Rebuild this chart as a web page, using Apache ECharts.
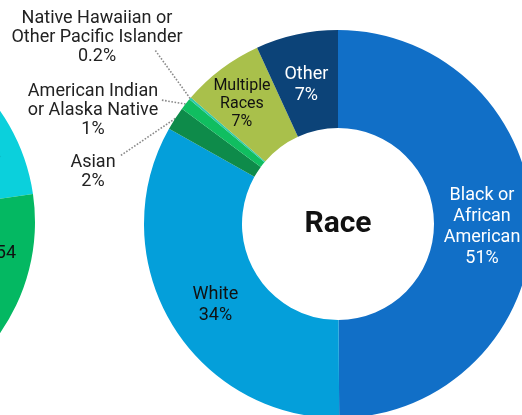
<!DOCTYPE html>
<html>
<head>
<meta charset="utf-8">
<script src="https://cdn.jsdelivr.net/npm/echarts@6/dist/echarts.min.js"></script>
<style>
  html, body { margin: 0; padding: 0; background: #fff; }
  #chart { width: 522px; height: 415px; }
</style>
</head>
<body>
<div id="chart"></div>
<script>
// Race breakdown, clockwise from 12 o'clock
const raceNames = [
  'Black or\nAfrican\nAmerican',
  'White',
  'Asian',
  'American Indian\nor Alaska Native',
  'Native Hawaiian or\nOther Pacific Islander',
  'Multiple\nRaces',
  'Other'
];
const raceValues = [51, 34, 2, 1, 0.2, 7, 7];
const raceColors = ['#116fc7', '#049fda', '#0e8b4a', '#10be60', '#2ecbab', '#a9c04b', '#0c4378'];

// Neighbouring age chart (mostly outside the frame)
const ageNames = ['Under 18', '18–54', '55 and Over'];
const ageValues = [24, 54, 22];
const ageColors = ['#0bd0dc', '#04b862', '#2b7bd0'];

// Small slices: label centre and where the dotted leader meets the label
const outsideLabels = {
  2: { pos: [93, 172], anchor: [120, 156] },
  3: { pos: [93, 110], anchor: [161, 100] },
  4: { pos: [97, 37], anchor: [155, 50] }
};
// Fine offsets for the labels drawn inside the ring
const insideLabelShift = {
  0: [-4, 3],
  1: [5, 6],
  5: [-7, -2],
  6: [0, 6]
};
const ageLabelPos = {
  0: [1, 155],
  1: [16, 253]
};

const FONT = 'Roboto, "Noto Sans", sans-serif';

const raceData = raceNames.map((name, i) => {
  const item = {
    name: name,
    value: raceValues[i],
    itemStyle: { color: raceColors[i] }
  };
  if (i === 0 || i === 6) {
    item.label = { color: '#ffffff' };
  }
  if (i === 5) {
    item.label = { fontSize: 16, lineHeight: 18, color: '#111' };
  }
  if (outsideLabels[i]) {
    item.label = { position: 'outside', color: '#222', lineHeight: 19 };
    item.labelLine = {
      show: true,
      length: 10,
      length2: 10,
      smooth: false,
      lineStyle: { color: '#8a8a8a', width: 1.6, type: 'dotted' }
    };
  }
  return item;
});

const ageData = ageNames.map((name, i) => ({
  name: name,
  value: ageValues[i],
  itemStyle: { color: ageColors[i] }
}));

const chart = echarts.init(document.getElementById('chart'), null, { renderer: 'canvas' });

chart.setOption({
  animation: false,
  backgroundColor: '#ffffff',
  graphic: [{
    type: 'text',
    x: 338,
    y: 224,
    style: {
      text: 'Race',
      fill: '#111',
      font: 'bold 30px ' + FONT,
      align: 'center',
      verticalAlign: 'middle'
    }
  }],
  series: [
    {
      type: 'pie',
      center: [-159, 222],
      radius: [120, 194],
      startAngle: 94.7,
      clockwise: true,
      silent: true,
      avoidLabelOverlap: false,
      data: ageData,
      label: {
        show: true,
        position: 'inside',
        formatter: '{b}',
        fontFamily: FONT,
        fontSize: 18,
        color: '#111'
      },
      labelLine: { show: false },
      labelLayout: function (p) {
        const pos = ageLabelPos[p.dataIndex];
        if (!pos) return {};
        return { x: pos[0], y: pos[1], align: 'right', verticalAlign: 'middle' };
      }
    },
    {
      type: 'pie',
      center: [338, 224],
      radius: [96, 194],
      startAngle: 90,
      clockwise: true,
      silent: true,
      avoidLabelOverlap: false,
      data: raceData,
      label: {
        show: true,
        position: 'inside',
        formatter: function (p) { return p.name + '\n' + p.value + '%'; },
        fontFamily: FONT,
        fontSize: 18,
        lineHeight: 21,
        color: '#111',
        align: 'center'
      },
      labelLine: { show: false },
      labelLayout: function (p) {
        const out = outsideLabels[p.dataIndex];
        if (out) {
          // leader runs from the slice's outer edge to the label
          const start = p.labelLinePoints ? p.labelLinePoints[0] : out.anchor;
          return {
            x: out.pos[0],
            y: out.pos[1],
            align: 'center',
            verticalAlign: 'middle',
            labelLinePoints: [start, out.anchor, out.anchor]
          };
        }
        const s = insideLabelShift[p.dataIndex];
        return s ? { dx: s[0], dy: s[1] } : {};
      }
    }
  ]
});
</script>
</body>
</html>
